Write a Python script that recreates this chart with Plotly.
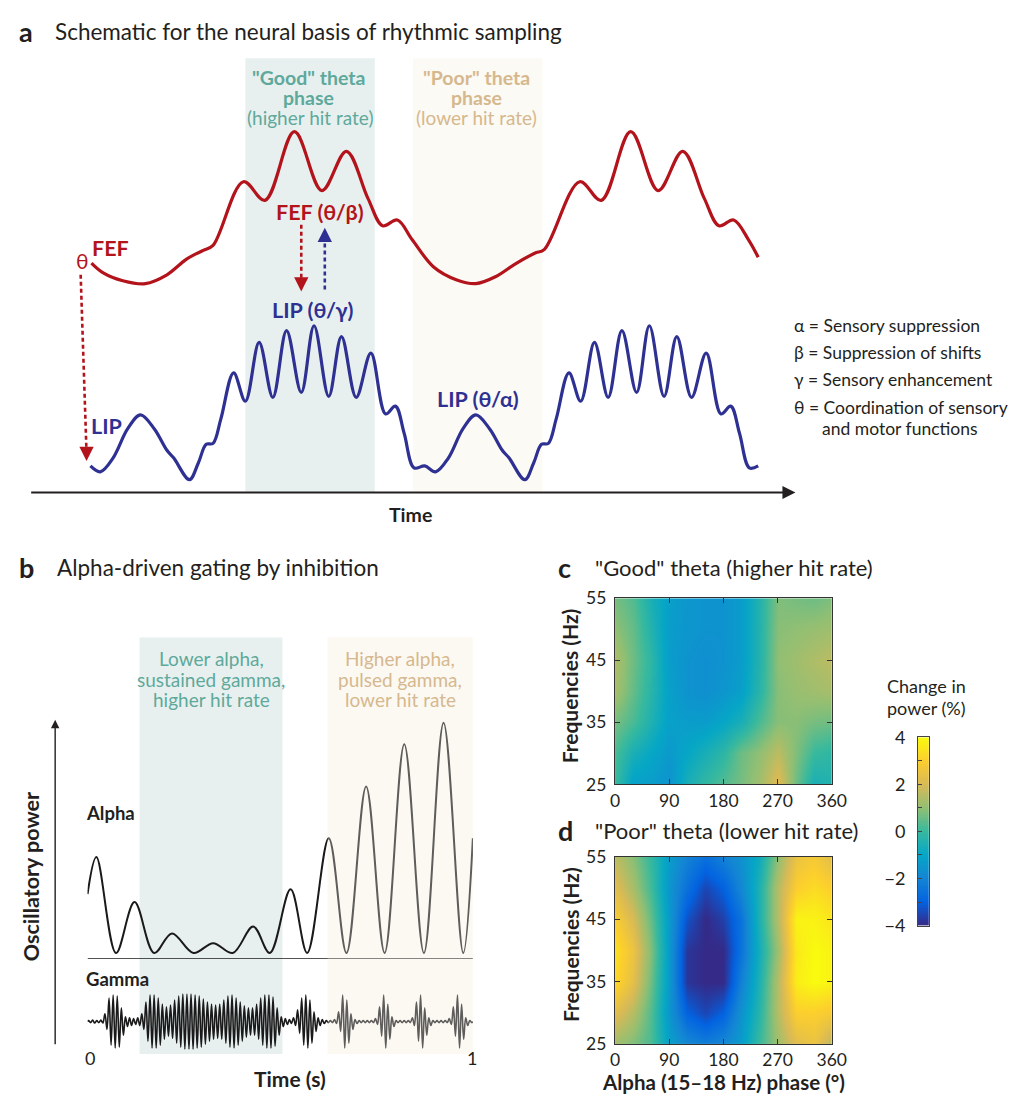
import numpy as np
import plotly.graph_objects as go

W, H = 1026, 1102
OFF = 8  # page body margin of the rendered html
FONT = "Lato"
DARK = "#231f20"
RED = "#b3141c"
BLUE = "#2e3192"
TEAL_T = "#5ea99b"
BEIGE_T = "#d6b88e"
TEAL_BG = "#e8f0ef"
BEIGE_BG = "#fcfaf4"


def fx(x):
    return (x - OFF) / W


def fy(y):
    return 1 - (y - OFF) / H


# ---------------- data ----------------
# Panel a: schematic FEF / LIP traces (time in arbitrary units, amplitude in arbitrary units)
fef_t = [88, 100, 120, 143, 165, 185, 202, 212, 243, 265, 295, 323, 348, 370, 385, 400, 415, 437,
         460, 480, 500, 520, 540, 550, 586, 608, 638, 666, 691, 713, 728, 743, 758, 768]
fef_v = [244, 234, 226, 223, 232, 248, 257, 262, 327, 308, 378, 318, 358, 310, 282, 288, 268, 240,
         227, 223, 230, 243, 254, 258, 327, 308, 378, 318, 358, 310, 282, 288, 268, 250]

lip_t = [87, 97, 110, 125, 138, 152, 165, 172, 188, 197, 205, 212, 220, 233, 245, 259, 273, 287,
         302, 315, 330, 343, 358, 373, 388, 398, 407, 417, 428, 439, 452, 467, 480, 494, 507, 514,
         530, 539, 547, 554, 562, 575, 587, 601, 615, 629, 644, 657, 672, 685, 700, 715, 730, 740,
         749, 759, 768]
lip_v = [37, 31, 45, 75, 89, 75, 53, 45, 23, 40, 59, 60, 85, 132, 103, 163, 107, 175,
         112, 180, 108, 169, 107, 152, 90, 98, 70, 35, 37, 31, 45, 75, 89, 75, 53, 45,
         23, 40, 59, 60, 85, 132, 103, 163, 107, 175, 112, 180, 108, 169, 107, 152, 90, 98,
         70, 35, 37]
time_axis_y = 10  # level of the time arrow in panel a amplitude units

# Panel b: alpha power trace (time in s)
alpha_t = [0, 0.023, 0.074, 0.122, 0.173, 0.219, 0.275, 0.326, 0.377, 0.430, 0.473,
           0.527, 0.570, 0.626, 0.672, 0.723, 0.771, 0.822, 0.873, 0.924, 0.975, 1.0]
alpha_v = [6.6, 10.4, 0.6, 5.8, 0.6, 2.6, 0.6, 1.6, 0.6, 3.3, 0.6,
           7.1, 0.6, 12.3, 0.6, 17.6, 0.6, 21.9, 0.6, 24.1, 0.6, 12.3]

# Panel b: gamma oscillation, amplitude of each successive cycle over 0-1 s
gamma_amp = [1, 1.5, 1, 1.5, 8, 24, 27, 26, 14, 5,
             4, 3, 4, 8, 20, 27, 27, 24, 18, 15,
             17, 22, 26, 28, 28, 28, 27, 26, 23, 20,
             18, 17, 18, 22, 26, 27, 24, 20, 16, 14,
             14, 18, 24, 27, 27, 25, 14, 5, 3, 2,
             4, 12, 24, 27, 22, 10, 4, 2, 1, 1,
             2, 10, 27, 22, 8, 2, 1, 1, 1, 1,
             3, 15, 27, 18, 5, 1, 1, 1, 1, 4,
             20, 27, 14, 4, 1, 1, 1, 1, 3, 15,
             27, 18, 4, 1]

# Panels c, d: change in power (%) by alpha phase (deg) and frequency (Hz)
phase = [0, 30, 60, 90, 120, 150, 180, 210, 240, 270, 300, 330, 360]
freq = [25, 30, 35, 40, 45, 50, 55]
good_z = [
    [0.0, -1.2, -1.3, -1.6, -0.6, -0.1, 0.3, 0.7, 1.2, 2.2, 0.6, -0.6, -0.4],
    [0.2, -0.6, -1.0, -1.4, -1.0, -0.6, -0.2, 0.6, 1.0, 1.6, 0.8, 0.0, -0.2],
    [0.7, 0.2, -0.5, -1.2, -1.3, -1.3, -1.0, -0.6, 0.2, 0.9, 0.9, 0.7, 0.6],
    [1.3, 0.5, -0.3, -1.2, -1.6, -1.7, -1.5, -1.2, -0.3, 0.9, 1.1, 1.2, 1.3],
    [1.4, 0.6, -0.2, -1.3, -1.6, -1.7, -1.6, -1.3, -0.4, 1.0, 1.2, 1.4, 1.6],
    [1.0, 0.5, -0.4, -1.3, -1.5, -1.6, -1.6, -1.3, -0.4, 0.9, 1.0, 1.1, 1.2],
    [0.7, 0.3, -0.6, -1.2, -1.5, -1.6, -1.6, -1.3, -0.4, 0.8, 0.7, 0.6, 0.8],
]
poor_z = [
    [1.2, 0.8, 0.2, -1.2, -1.9, -2.2, -1.9, -1.3, 0.0, 1.2, 2.2, 2.5, 1.5],
    [2.2, 1.5, 0.3, -1.5, -3.0, -3.5, -3.0, -1.6, -0.3, 1.5, 3.0, 3.0, 2.8],
    [3.2, 2.3, 0.6, -1.4, -3.8, -4.0, -4.0, -2.1, -0.5, 1.5, 3.7, 4.0, 3.8],
    [3.4, 2.5, 0.8, -1.4, -3.8, -4.0, -4.0, -2.5, -0.7, 1.2, 3.6, 4.0, 3.8],
    [2.9, 2.0, 0.5, -1.4, -3.3, -4.0, -3.6, -2.5, -0.5, 1.5, 3.8, 3.8, 3.5],
    [2.2, 1.3, 0.1, -1.5, -2.6, -3.5, -3.0, -1.9, -0.5, 1.5, 3.0, 3.3, 3.0],
    [1.6, 0.9, -0.1, -1.3, -2.1, -2.6, -2.1, -1.6, -0.8, 1.0, 2.5, 2.8, 2.2],
]
phase_ticks = [0, 90, 180, 270, 360]
freq_ticks = [25, 35, 45, 55]
cbar_ticks = [-4, -3, -2, -1, 0, 1, 2, 3, 4]
cbar_text = ["\u22124", "", "\u22122", "", "0", "", "2", "", "4"]

PARULA = [[0.0, "#352a87"], [0.125, "#0363e1"], [0.25, "#1485d4"], [0.375, "#06a7c6"],
          [0.5, "#38b99e"], [0.625, "#92bf73"], [0.75, "#d9ba56"], [0.875, "#fcce2e"],
          [1.0, "#f9fb0e"]]

fig = go.Figure()

# ---- panel a ----
fig.add_trace(go.Scatter(x=fef_t, y=fef_v, mode="lines", xaxis="x", yaxis="y", hoverinfo="skip",
                         line=dict(color=RED, width=3.2, shape="spline", smoothing=1)))
fig.add_trace(go.Scatter(x=lip_t, y=lip_v, mode="lines", xaxis="x", yaxis="y", hoverinfo="skip",
                         line=dict(color=BLUE, width=3.2, shape="spline", smoothing=1)))

# ---- panel b ----
fig.add_trace(go.Scatter(x=alpha_t, y=alpha_v, mode="lines", xaxis="x2", yaxis="y2", hoverinfo="skip",
                         line=dict(color="#1a1a1a", width=2, shape="spline", smoothing=1)))
N = len(gamma_amp)
gx, gy = [0.0], [0.0]
for i, a in enumerate(gamma_amp):
    gx += [(i + 0.25) / N, (i + 0.75) / N]
    gy += [a, -a]
gx.append(1.0)
gy.append(0.0)
fig.add_trace(go.Scatter(x=gx, y=gy, mode="lines", xaxis="x2", yaxis="y3", hoverinfo="skip",
                         line=dict(color="#1a1a1a", width=1.6, shape="spline", smoothing=1)))

# ---- panels c, d ----
fig.add_trace(go.Heatmap(x=phase, y=freq, z=good_z, xaxis="x4", yaxis="y4", colorscale=PARULA,
                         zmin=-4, zmax=4, zsmooth="best", showscale=False, hoverinfo="skip"))
fig.add_trace(go.Heatmap(x=phase, y=freq, z=poor_z, xaxis="x5", yaxis="y5", colorscale=PARULA,
                         zmin=-4, zmax=4, zsmooth="best", showscale=False, hoverinfo="skip"))
# colour scale bar
cb_vals = np.linspace(-4, 4, 161)
fig.add_trace(go.Heatmap(x=[0], y=cb_vals, z=[[v] for v in cb_vals], xaxis="x6", yaxis="y6",
                         colorscale=PARULA, zmin=-4, zmax=4, showscale=False, hoverinfo="skip"))

shapes = []
anns = []


def T(x, y, text, size=16, color=DARK, bold=False, xanchor="center", yanchor="middle", angle=0):
    if bold:
        text = "<b>" + text + "</b>"
    anns.append(dict(x=fx(x), y=fy(y), xref="paper", yref="paper", text=text, showarrow=False,
                     font=dict(family=FONT, size=size, color=color), xanchor=xanchor,
                     yanchor=yanchor, textangle=angle, borderpad=0))


def dashed_arrow(x0, y0, x1, y1, color):
    # dashed shaft from (x0,y0) to near (x1,y1), arrow head at (x1,y1); pixel coords
    dy = 1 if y1 > y0 else -1
    shapes.append(dict(type="line", xref="paper", yref="paper", x0=fx(x0), y0=fy(y0),
                       x1=fx(x1), y1=fy(y1 - dy * 8), line=dict(color=color, width=2.6, dash="4px,3px")))
    anns.append(dict(x=fx(x1), y=fy(y1), xref="paper", yref="paper", text="", showarrow=True,
                     ax=0, ay=-dy * 12, arrowhead=2, arrowsize=1.1, arrowwidth=2.6, arrowcolor=color))


# bands panel a
shapes.append(dict(type="rect", xref="x", yref="paper", x0=245, x1=377, y0=fy(490), y1=fy(47),
                   fillcolor=TEAL_BG, line=dict(width=0), layer="below"))
shapes.append(dict(type="rect", xref="x", yref="paper", x0=416, x1=548, y0=fy(490), y1=fy(47),
                   fillcolor=BEIGE_BG, line=dict(width=0), layer="below"))
# time axis arrow
anns.append(dict(x=806, y=time_axis_y, xref="x", yref="y", ax=25, ay=time_axis_y,
                 axref="x", ayref="y", text="", showarrow=True, arrowhead=2,
                 arrowsize=1.3, arrowwidth=2, arrowcolor=DARK))

dashed_arrow(77, 268, 83, 458, RED)
dashed_arrow(302, 217, 302, 285, RED)
dashed_arrow(326, 283, 326, 220, BLUE)

T(13, 20, "a", size=27, bold=True, xanchor="left")
T(50, 20, "Schematic for the neural basis of rhythmic sampling", size=22.5, xanchor="left")
T(309, 67, '"Good" theta', size=19.5, color=TEAL_T, bold=True)
T(309, 87, "phase", size=19.5, color=TEAL_T, bold=True)
T(311, 107, "(higher hit rate)", size=19, color=TEAL_T)
T(481, 67, '"Poor" theta', size=19.5, color=BEIGE_T, bold=True)
T(481, 87, "phase", size=19.5, color=BEIGE_T, bold=True)
T(481, 107, "(lower hit rate)", size=19, color=BEIGE_T)
T(79, 253, "\u03b8", size=21, color=RED)
T(107, 241, "FEF", size=21.5, color=RED, bold=True)
T(321, 204, "FEF (\u03b8/\u03b2)", size=21.5, color=RED, bold=True)
T(314, 304, "LIP (\u03b8/\u03b3)", size=21.5, color=BLUE, bold=True)
T(103, 422, "LIP", size=21.5, color=BLUE, bold=True)
T(482, 395, "LIP (\u03b8/\u03b1)", size=21.5, color=BLUE, bold=True)
T(413, 513, "Time", size=19.5, bold=True)
T(804, 320, "\u03b1 = Sensory suppression", size=17.5, xanchor="left")
T(804, 347, "\u03b2 = Suppression of shifts", size=17.5, xanchor="left")
T(804, 375, "\u03b3 = Sensory enhancement", size=17.5, xanchor="left")
T(804, 403, "\u03b8 = Coordination of sensory", size=17.5, xanchor="left")
T(832, 425, "and motor functions", size=17.5, xanchor="left")

# ---- panel b decorations ----
shapes.append(dict(type="rect", xref="x2", yref="paper", x0=0.135, x1=0.506, y0=fy(1063), y1=fy(638),
                   fillcolor=TEAL_BG, line=dict(width=0), layer="below"))
shapes.append(dict(type="rect", xref="x2", yref="paper", x0=0.623, x1=1.0, y0=fy(1063), y1=fy(638),
                   fillcolor=BEIGE_BG, line=dict(width=0), layer="below"))
shapes.append(dict(type="line", xref="x2", yref="y2", x0=0, x1=1, y0=0, y1=0,
                   line=dict(color="#1a1a1a", width=1.6)))
shapes.append(dict(type="rect", xref="x2", yref="paper", x0=0.623, x1=1.0, y0=fy(1063), y1=fy(638),
                   fillcolor="rgba(252,250,243,0.3)", line=dict(width=0), layer="above"))
anns.append(dict(x=fx(51), y=fy(722), xref="paper", yref="paper", ax=0, ay=326, text="",
                 showarrow=True, arrowhead=2, arrowsize=1.2, arrowwidth=1.4, arrowcolor=DARK))

T(13, 567, "b", size=27, bold=True, xanchor="left")
T(52, 567, "Alpha-driven gating by inhibition", size=22.5, xanchor="left")
T(210, 660, "Lower alpha,", size=19, color=TEAL_T)
T(210, 681, "sustained gamma,", size=19, color=TEAL_T)
T(210, 701, "higher hit rate", size=19, color=TEAL_T)
T(403, 660, "Higher alpha,", size=19, color=BEIGE_T)
T(403, 681, "pulsed gamma,", size=19, color=BEIGE_T)
T(403, 701, "lower hit rate", size=19, color=BEIGE_T)
T(107, 817, "Alpha", size=18.5, bold=True)
T(115, 987, "Gamma", size=18.5, bold=True)
T(26, 882, "Oscillatory power", size=21.5, bold=True, angle=-90)
T(87, 1067, "0", size=18)
T(476, 1067, "1", size=18)
T(291, 1088, "Time (s)", size=21, bold=True)

# ---- panels c, d text ----
T(563, 567, "c", size=27, bold=True, xanchor="left")
T(601, 567, '"Good" theta (higher hit rate)', size=22, xanchor="left")
T(563, 835, "d", size=27, bold=True, xanchor="left")
T(601, 835, '"Poor" theta (lower hit rate)', size=22, xanchor="left")
T(576, 687, "Frequencies (Hz)", size=21, bold=True, angle=-90)
T(576, 951, "Frequencies (Hz)", size=21, bold=True, angle=-90)
T(733, 1092, "Alpha (15\u201318 Hz) phase (\u00b0)", size=20.5, bold=True)
T(940, 688, "Change in", size=18)
T(940, 710, "power (%)", size=18)

tickfont = dict(family=FONT, size=17.5, color=DARK)
hm_x = dict(range=[0, 360], tickvals=phase_ticks, ticks="inside", ticklen=5, tickwidth=1.2,
            tickcolor="#333", showline=True, linecolor="#333", linewidth=1.3, mirror="ticks",
            showgrid=False, zeroline=False, tickfont=tickfont, ticklabelstandoff=0)
hm_y = dict(range=[25, 55], tickvals=freq_ticks, ticks="inside", ticklen=5, tickwidth=1.2,
            tickcolor="#333", showline=True, linecolor="#333", linewidth=1.3, mirror="ticks",
            showgrid=False, zeroline=False, tickfont=tickfont, ticklabelstandoff=4)

hidden = dict(visible=False, showgrid=False, zeroline=False, fixedrange=True)

fig.update_layout(
    width=W, height=H, margin=dict(l=0, r=0, t=0, b=0),
    paper_bgcolor="white", plot_bgcolor="rgba(0,0,0,0)", showlegend=False,
    font=dict(family=FONT, color=DARK),
    xaxis=dict(hidden, domain=[fx(25), fx(805)], range=[25, 805], anchor="y"),
    yaxis=dict(hidden, domain=[fy(500), fy(40)], range=[0, 460], anchor="x"),
    xaxis2=dict(hidden, domain=[fx(84), fx(477)], range=[0, 1], anchor="y2"),
    yaxis2=dict(hidden, domain=[fy(966), fy(700)], range=[0, 26.6], anchor="x2"),
    yaxis3=dict(hidden, domain=[fy(1065), fy(995)], range=[-35, 35], anchor="x2"),
    xaxis4=dict(hm_x, domain=[fx(622), fx(843)], anchor="y4"),
    yaxis4=dict(hm_y, domain=[fy(788), fy(598)], anchor="x4"),
    xaxis5=dict(hm_x, domain=[fx(622), fx(843)], anchor="y5"),
    yaxis5=dict(hm_y, domain=[fy(1053), fy(862)], anchor="x5"),
    xaxis6=dict(domain=[fx(931), fx(942)], range=[-0.5, 0.5], anchor="y6", showticklabels=False,
                ticks="", showline=True, linecolor="#444", linewidth=1, mirror=True,
                showgrid=False, zeroline=False),
    yaxis6=dict(domain=[fy(932), fy(740)], range=[-4, 4], anchor="x6", tickvals=cbar_ticks,
                ticktext=cbar_text, ticks="inside", ticklen=4, tickcolor="#444", showline=True,
                linecolor="#444", linewidth=1, mirror=True, showgrid=False, zeroline=False,
                tickfont=dict(family=FONT, size=18, color=DARK), ticklabelstandoff=8),
    shapes=shapes, annotations=anns,
)

fig.write_html("out.html")
